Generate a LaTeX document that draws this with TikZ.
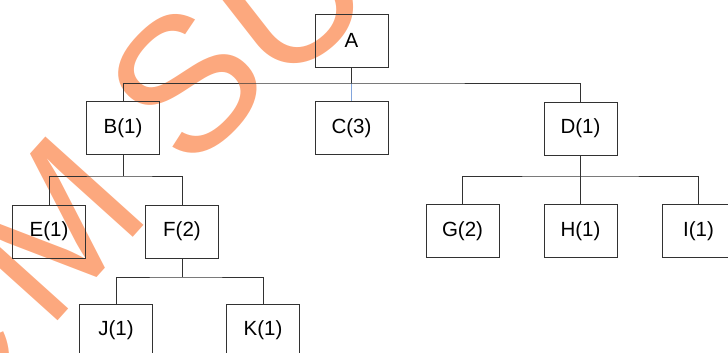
\documentclass[tikz,border=0pt]{standalone}
\usepackage{fontspec}
\setmainfont{Liberation Sans}
\definecolor{wmark}{RGB}{252,168,126}
\definecolor{edge}{RGB}{50,50,50}
\definecolor{linkblue}{RGB}{130,165,220}
\tikzset{
  treebox/.style={draw=edge, line width=0.9pt, minimum width=73pt, minimum height=53pt,
    inner sep=0pt, font=\fontsize{20.5}{24}\selectfont},
  link/.style={draw=edge, line width=0.9pt},
  wmletter/.style={text=wmark, inner sep=0pt, font=\fontsize{192}{192}\selectfont}
}
\begin{document}
\begin{tikzpicture}[x=1pt,y=-1pt]
\useasboundingbox (0,0) rectangle (728,353);
\clip (0,0) rectangle (728,353);
% arched watermark lettering behind the tree, one letter at a time
\node[wmletter, rotate=50] (wm1) at (-62,358) {C};
\node[wmletter, rotate=48] (wm2) at (52,229) {M};
\node[wmletter, rotate=46] (wm3) at (186,84) {S};
\node[wmletter, rotate=38] (wm4) at (289,-3) {U};
% tree boxes
\node[treebox] (A) at (351.5,40.5) {A};
\node[treebox] (B) at (123,128) {B(1)};
\node[treebox] (C) at (351.5,128) {C(3)};
\node[treebox] (D) at (580.5,128.5) {D(1)};
\node[treebox] (E) at (49,231.5) {E(1)};
\node[treebox] (F) at (182,231.5) {F(2)};
\node[treebox] (G) at (462.5,231) {G(2)};
\node[treebox] (H) at (580.5,231) {H(1)};
\node[treebox] (I) at (698.5,231) {I(1)};
\node[treebox] (J) at (116,330.5) {J(1)};
\node[treebox] (K) at (263,330.5) {K(1)};
% bus junctions
\coordinate (busA) at (351.5,83);
\coordinate (busB) at (123,176);
\coordinate (busD) at (580.5,176);
\coordinate (busF) at (182,277);
% connectors
\draw[link] (A.south) -- (busA);
\draw[line width=0.9pt, linkblue] (busA) -- (C.north);
\draw[link] (B.north) |- (busA) -| (D.north);
\draw[link] (B.south) -- (busB);
\draw[link] (E.north) |- (busB) -| (F.north);
\draw[link] (D.south) -- (H.north);
\draw[link] (G.north) |- (busD) -| (I.north);
\draw[link] (F.south) -- (busF);
\draw[link] (J.north) |- (busF) -| (K.north);
\end{tikzpicture}
\end{document}
